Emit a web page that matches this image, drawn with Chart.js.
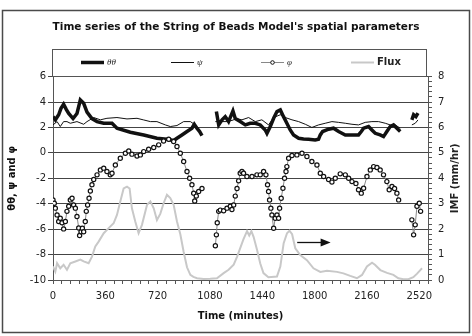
<!DOCTYPE html>
<html>
<head>
<meta charset="utf-8">
<script src="https://cdn.jsdelivr.net/npm/chart.js@4.4.0/dist/chart.umd.min.js"></script>
<style>
body { margin: 0; background: #fff; }
#wrap { width: 472px; height: 336px; }
</style>
</head>
<body>
<div id="wrap"><canvas id="beadsChart" width="472" height="336"></canvas></div>
<script>
// legend / series labels
const seriesLabels = ['θθ', 'ψ', 'φ', 'Flux'];

// thick line (null = data gap)
const timeThick = [0, 16, 39, 55, 73, 92, 108, 138, 165, 188,
    211, 234, 268, 303, 349, 406, 440, 532, 624, 715,
    784, 830, 853, 887, 922, 956, 972, 990, 1009, 1025,
    1070,
    1124, 1140, 1163, 1185, 1208, 1238, 1254, 1288, 1323, 1357,
    1392, 1426, 1460, 1472, 1495, 1518, 1541, 1564, 1586, 1609,
    1632, 1655, 1690, 1724, 1758, 1804, 1827, 1839, 1855, 1896,
    1930, 1965, 2011, 2068, 2102, 2121, 2137, 2171, 2194, 2217,
    2251, 2274, 2297, 2320, 2343, 2366, 2389,
    2430,
    2469, 2481, 2497, 2511];
const valThick = [2.85, 2.6, 3.0, 3.5, 3.82, 3.4, 3.1, 2.7, 3.1, 4.16,
    3.9, 3.2, 2.7, 2.46, 2.33, 2.33, 1.94, 1.62, 1.41, 1.15,
    1.07, 0.97, 1.15, 1.41, 1.68, 1.94, 2.25, 1.94, 1.68, 1.36,
    null,
    3.25, 2.2, 2.6, 2.85, 2.46, 3.3, 2.7, 2.46, 2.2, 2.33,
    2.33, 2.2, 1.8, 1.54, 2.07, 2.72, 3.25, 3.38, 2.85, 2.33,
    1.8, 1.41, 1.15, 1.1, 1.07, 1.02, 1.07, 1.41, 1.68, 1.86,
    1.94, 1.68, 1.41, 1.41, 1.41, 1.68, 1.94, 2.07, 1.8, 1.54,
    1.41, 1.28, 1.68, 2.07, 2.2, 1.94, 1.68,
    null,
    2.6, 3.0, 2.85, 3.12];

// thin line
const timeThin = [0, 28, 50, 73, 96, 119, 165, 211, 234, 280,
    326, 371, 440, 509, 578, 624, 670, 715, 773, 807,
    853, 899, 945, 979, 995,
    1060,
    1117, 1151, 1197, 1243, 1254, 1300, 1346, 1392, 1437, 1483,
    1518, 1564, 1598, 1644, 1690, 1736, 1781, 1827, 1873, 1919,
    1965, 2011, 2057, 2102, 2148, 2194, 2240, 2286, 2320, 2355,
    2389,
    2430,
    2469, 2492, 2511];
const valThin = [2.2, 2.46, 2.07, 2.46, 2.46, 2.33, 2.46, 2.25, 2.46, 2.78,
    2.6, 2.72, 2.78, 2.67, 2.72, 2.59, 2.46, 2.46, 2.2, 2.07,
    2.15, 2.46, 2.46, 2.2, 2.0,
    null,
    2.46, 2.46, 2.46, 2.59, 2.72, 2.6, 2.78, 2.46, 2.6, 2.2,
    2.78, 3.0, 2.78, 2.6, 2.46, 2.25, 2.0, 2.2, 2.33, 2.46,
    2.4, 2.33, 2.25, 2.2, 2.4, 2.46, 2.46, 2.33, 2.2, 2.2,
    1.94,
    null,
    2.2, 2.33, 2.59];

// circle markers series
const timeCirc = [0, 9, 16, 28, 39, 50, 62, 73, 85, 96,
    108, 119, 131, 142, 154, 165, 177, 183, 193, 202,
    211, 222, 229, 238, 248, 257, 268, 280, 303, 326,
    349, 371, 394, 406, 429, 463, 498, 521, 543, 578,
    601, 624, 658, 693, 727, 761, 796, 830, 853, 876,
    899, 922, 940, 956, 968, 975, 986, 1002, 1025,
    1070,
    1117, 1124, 1130, 1140, 1151, 1174, 1197, 1220, 1231, 1243,
    1254, 1266, 1277, 1288, 1300, 1311, 1334, 1369, 1403, 1426,
    1449, 1465, 1476, 1483, 1490, 1499, 1506, 1518, 1529, 1541,
    1552, 1559, 1570, 1582, 1593, 1603, 1609, 1621, 1644, 1678,
    1713, 1747, 1781, 1816, 1839, 1862, 1896, 1919, 1942, 1976,
    2011, 2034, 2057, 2084, 2102, 2121, 2137, 2160, 2183, 2206,
    2229, 2251, 2274, 2297, 2313, 2332, 2350, 2366, 2378,
    2420,
    2469, 2481, 2492, 2504, 2520, 2529];
const valCirc = [-3.7, -3.96, -4.35, -4.88, -5.4, -5.14, -5.5, -5.98, -5.4, -4.6,
    -4.2, -3.7, -3.57, -4.1, -4.35, -5.0, -5.9, -6.5, -6.2, -5.93,
    -6.2, -5.4, -4.6, -4.1, -3.57, -3.0, -2.5, -2.1, -1.73, -1.34,
    -1.2, -1.47, -1.73, -1.6, -0.95, -0.42, -0.03, 0.15, -0.1, -0.24,
    -0.16, 0.1, 0.29, 0.42, 0.63, 0.94, 1.07, 0.89, 0.5, -0.03,
    -0.68, -1.47, -2.0, -2.5, -3.17, -3.78, -3.4, -3.04, -2.8,
    null,
    -7.3, -6.45, -5.5, -4.6, -4.5, -4.55, -4.35, -4.2, -4.45, -4.1,
    -3.4, -2.8, -2.2, -1.6, -1.47, -1.6, -1.86, -1.86, -1.73, -1.73,
    -1.47, -1.73, -2.5, -3.04, -3.7, -4.35, -4.88, -5.93, -5.14, -4.88,
    -5.14, -4.35, -3.57, -2.78, -2.0, -1.47, -1.08, -0.42, -0.21, -0.16,
    -0.03, -0.29, -0.68, -0.95, -1.6, -1.86, -2.1, -2.3, -2.0, -1.65,
    -1.73, -2.0, -2.26, -2.4, -2.9, -3.17, -2.78, -1.86, -1.34, -1.08,
    -1.15, -1.34, -1.73, -2.26, -2.9, -2.65, -2.8, -3.17, -3.7,
    null,
    -5.27, -6.45, -5.66, -4.2, -3.96, -4.6];

// IMF flux (right axis, mm/hr)
const timeFlux = [0, 16, 28, 50, 73, 96, 119, 154, 188, 211,
    245, 268, 291, 314, 349, 383, 417, 440, 463, 486,
    509, 527, 543, 566, 589, 612, 647, 670, 693, 715,
    738, 761, 784, 807, 830, 853, 876, 899, 922, 945,
    966, 991, 1036, 1082, 1128, 1174, 1208, 1243, 1266, 1310,
    1335, 1350, 1365, 1380, 1404, 1426, 1448, 1482, 1541, 1564,
    1587, 1610, 1627, 1645, 1667, 1701, 1747, 1792, 1839, 1885,
    1954, 1998, 2045, 2091, 2126, 2160, 2195, 2215, 2252, 2298,
    2342, 2376, 2410, 2445, 2479, 2505, 2527, 2539];
const valFlux = [0.53, 0.33, 0.66, 0.46, 0.6, 0.4, 0.66, 0.73, 0.8, 0.73,
    0.66, 0.92, 1.32, 1.51, 1.84, 2.04, 2.23, 2.56, 3.09, 3.6,
    3.67, 3.6, 2.82, 2.3, 1.84, 2.17, 2.96, 3.09, 2.82, 2.36,
    2.6, 3.02, 3.35, 3.22, 2.96, 2.3, 1.8, 1.1, 0.5, 0.2,
    0.12, 0.07, 0.04, 0.05, 0.07, 0.27, 0.4, 0.6, 0.91, 1.6,
    1.92, 1.75, 1.92, 1.7, 1.18, 0.65, 0.27, 0.11, 0.14, 0.53,
    1.45, 1.84, 1.94, 1.8, 1.25, 0.98, 0.78, 0.46, 0.32, 0.36,
    0.32, 0.26, 0.16, 0.07, 0.2, 0.53, 0.68, 0.6, 0.39, 0.28,
    0.2, 0.07, 0.03, 0.03, 0.11, 0.25, 0.39, 0.46];

// axis setup
const xMin = 0, xMax = 2580, xStep = 60, xLabelEvery = 360;
const leftMin = -10, leftMax = 6, leftStep = 2;
const rightMin = 0, rightMax = 8, rightStep = 0.2;

// arrow annotation (data coords, left axis)
const arrowFrom = 1680, arrowTo = 1910, arrowLevel = -7.05;

function toPoints(xs, ys) {
    return xs.map((x, i) => ({ x: x, y: ys[i] }));
}

Chart.defaults.font.family = "'DejaVu Sans', Verdana, sans-serif";
Chart.defaults.font.size = 10;
Chart.defaults.color = '#222';

//draws the outer frame behind everything
const framePlugin = {
    id: 'frame',
    beforeDraw(chart) {
        const ctx = chart.ctx;
        ctx.save();
        ctx.fillStyle = '#fff';
        ctx.fillRect(0, 0, chart.width, chart.height);
        ctx.strokeStyle = '#4a4a4a';
        ctx.lineWidth = 1.5;
        ctx.strokeRect(2.5, 10.5, 467, 322);
        ctx.restore();
    }
};

//boxed legend with one sample per dataset
const legendPlugin = {
    id: 'boxLegend',
    afterDraw(chart) {
        const ctx = chart.ctx;
        const area = chart.chartArea;
        const left = area.left - 1, right = area.right - 2;
        const top = 49, bottom = 76;
        const midY = (top + bottom) / 2;
        ctx.save();
        ctx.strokeStyle = '#555';
        ctx.lineWidth = 1;
        ctx.strokeRect(left + 0.5, top + 0.5, right - left, bottom - top);
        chart.data.datasets.forEach((ds, i) => {
            const x = left + 29 + 90 * i;
            ctx.strokeStyle = ds.borderColor;
            ctx.lineWidth = ds.borderWidth;
            ctx.beginPath();
            ctx.moveTo(x, midY);
            ctx.lineTo(x + 23, midY);
            ctx.stroke();
            if (ds.pointRadius > 0) {
                ctx.beginPath();
                ctx.arc(x + 11.5, midY, 1.8, 0, Math.PI * 2);
                ctx.fillStyle = ds.pointBackgroundColor;
                ctx.fill();
                ctx.strokeStyle = ds.pointBorderColor;
                ctx.lineWidth = 1;
                ctx.stroke();
            }
            ctx.fillStyle = '#222';
            ctx.textBaseline = 'middle';
            ctx.textAlign = 'left';
            if (ds.label === 'Flux') {
                ctx.font = "bold 10px 'DejaVu Sans'";
            } else {
                ctx.font = "italic 9px 'Liberation Serif'";
            }
            ctx.fillText(ds.label, x + 26, midY);
        });
        ctx.restore();
    }
};

//right axis title (reads bottom to top) and the arrow
const extrasPlugin = {
    id: 'extras',
    afterDraw(chart) {
        const ctx = chart.ctx;
        const area = chart.chartArea;
        ctx.save();
        ctx.translate(455, (area.top + area.bottom) / 2);
        ctx.rotate(-Math.PI / 2);
        ctx.font = "bold 10px 'DejaVu Sans'";
        ctx.fillStyle = '#222';
        ctx.textAlign = 'center';
        ctx.textBaseline = 'middle';
        ctx.fillText('IMF (mm/hr)', 0, 0);
        ctx.restore();

        const xs = chart.scales.x, ys = chart.scales.y;
        const x0 = xs.getPixelForValue(arrowFrom);
        const x1 = xs.getPixelForValue(arrowTo);
        const y = ys.getPixelForValue(arrowLevel);
        ctx.save();
        ctx.strokeStyle = '#111';
        ctx.fillStyle = '#111';
        ctx.lineWidth = 1.3;
        ctx.beginPath();
        ctx.moveTo(x0, y);
        ctx.lineTo(x1 - 9, y);
        ctx.stroke();
        ctx.beginPath();
        ctx.moveTo(x1, y);
        ctx.lineTo(x1 - 10, y - 4);
        ctx.lineTo(x1 - 10, y + 4);
        ctx.closePath();
        ctx.fill();
        ctx.restore();
    }
};

const beadsChart = new Chart(document.getElementById('beadsChart'), {
    type: 'line',
    data: {
        datasets: [{
            label: seriesLabels[0],
            data: toPoints(timeThick, valThick),
            borderColor: '#111',
            borderWidth: 3.5,
            pointRadius: 0,
            yAxisID: 'y',
            order: 2
        }, {
            label: seriesLabels[1],
            data: toPoints(timeThin, valThin),
            borderColor: '#111',
            borderWidth: 1,
            pointRadius: 0,
            yAxisID: 'y',
            order: 3
        }, {
            label: seriesLabels[2],
            data: toPoints(timeCirc, valCirc),
            borderColor: '#888',
            borderWidth: 1,
            pointRadius: 2.1,
            pointBorderWidth: 1.2,
            pointBorderColor: '#111',
            pointBackgroundColor: '#fff',
            yAxisID: 'y',
            order: 1
        }, {
            label: seriesLabels[3],
            data: toPoints(timeFlux, valFlux),
            borderColor: '#c8c8c8',
            borderWidth: 2,
            pointRadius: 0,
            yAxisID: 'y1',
            order: 4
        }]
    },
    options: {
        responsive: false,
        animation: false,
        spanGaps: false,
        layout: { padding: 0 },
        plugins: {
            legend: { display: false },
            tooltip: { enabled: false },
            title: {
                display: true,
                text: "Time series of the String of Beads Model's spatial parameters",
                font: { size: 10.5, weight: 'bold' },
                color: '#111',
                padding: { top: 21, bottom: 43 }
            }
        },
        scales: {
            x: {
                type: 'linear',
                min: xMin,
                max: xMax,
                ticks: {
                    stepSize: xStep,
                    autoSkip: false,
                    maxRotation: 0,
                    padding: 6,
                    callback: v => Math.round(v) % xLabelEvery === 0 ? Math.round(v) : ''
                },
                grid: { drawOnChartArea: false, tickLength: 4, color: '#555' },
                border: { color: '#555' },
                title: {
                    display: true,
                    text: 'Time (minutes)',
                    font: { size: 10, weight: 'bold' },
                    color: '#111',
                    padding: { top: 0, bottom: 14 }
                },
                afterFit: s => { s.height = 56; }
            },
            y: {
                position: 'left',
                min: leftMin,
                max: leftMax,
                ticks: { stepSize: leftStep, padding: 2 },
                grid: { color: '#444', tickLength: 5 },
                border: { color: '#555' },
                title: {
                    display: true,
                    text: 'θθ, ψ and φ',
                    font: { size: 10, weight: 'bold' },
                    color: '#111',
                    padding: { top: 6, bottom: 0 }
                },
                afterFit: s => { s.width = 53; }
            },
            y1: {
                position: 'right',
                min: rightMin,
                max: rightMax,
                ticks: {
                    stepSize: rightStep,
                    autoSkip: false,
                    padding: 6,
                    callback: v => Math.abs(v - Math.round(v)) < 1e-6 ? Math.round(v) : ''
                },
                grid: { drawOnChartArea: false, tickLength: 4, color: '#555' },
                border: { color: '#555' },
                afterFit: s => { s.width = 44; }
            }
        }
    },
    plugins: [framePlugin, legendPlugin, extrasPlugin]
});
</script>
</body>
</html>
